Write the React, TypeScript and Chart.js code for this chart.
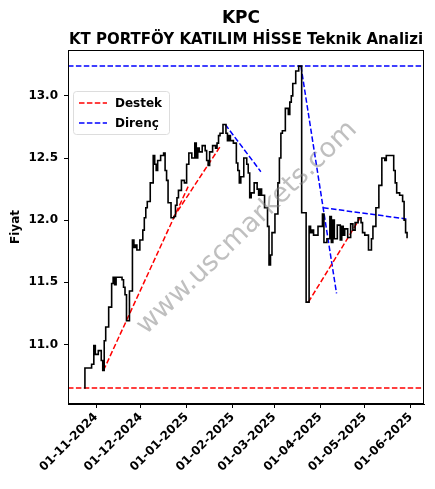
import React, { useEffect, useRef } from "react";
import { Chart, registerables } from "chart.js";

Chart.register(...registerables);

const DAY_MS = 86400000;
const dayNum = (iso: string) => Date.parse(iso + "T00:00:00Z") / DAY_MS;

// Session range and exchange holidays (no trading on these weekdays)
const firstSession = "2024-10-24";
const lastSession = "2025-05-30";
const marketHolidays = [
  "2024-10-29", "2025-01-01", "2025-03-31", "2025-04-01",
  "2025-04-23", "2025-05-01", "2025-05-19",
];

// Daily closing prices, one per session, grouped by month
const closeOct = [10.65, 10.81, 10.81, 10.84, 10.99];
const closeNov = [
  10.92, 10.95, 10.87, 10.79, 11.03, 11.14, 11.30, 11.49, 11.54, 11.48, 11.54,
  11.54, 11.52, 11.46, 11.40, 11.19, 11.43, 11.84, 11.78, 11.80, 11.76,
];
const closeDec = [
  11.84, 11.92, 12.02, 12.10, 12.15, 12.30, 12.52, 12.45, 12.40, 12.48, 12.52,
  12.54, 12.40, 12.32, 12.14, 12.02, 12.03, 12.12, 12.18, 12.24, 12.32, 12.30,
];
const closeJan = [
  12.45, 12.54, 12.50, 12.62, 12.50, 12.58, 12.55, 12.60, 12.56, 12.48, 12.44,
  12.55, 12.60, 12.58, 12.62, 12.68, 12.70, 12.77, 12.70, 12.64, 12.68, 12.64,
];
const closeFeb = [
  12.62, 12.46, 12.40, 12.30, 12.35, 12.50, 12.45, 12.38, 12.18, 12.22, 12.30,
  12.25, 12.20, 12.25, 12.20, 12.10, 11.95, 11.64, 11.72, 11.90,
];
const closeMar = [
  12.05, 12.30, 12.50, 12.70, 12.72, 12.90, 12.85, 12.95, 13.00, 13.10, 13.20,
  13.24, 13.24, 12.06, 12.06, 11.34, 11.95, 11.90, 11.92, 11.88,
];
const closeApr = [
  11.95, 12.05, 11.82, 11.85, 12.03, 11.82, 12.00, 11.85, 11.96, 11.84, 11.95,
  11.88, 11.93, 11.86, 11.97, 11.92, 11.98, 12.02, 11.98, 11.90,
];
const closeMay = [
  11.88, 11.76, 11.85, 11.95, 11.95, 12.10, 12.28, 12.50, 12.50, 12.48, 12.52,
  12.52, 12.40, 12.30, 12.22, 12.20, 12.15, 12.00, 11.90, 11.86,
];

// Horizontal support / resistance levels
const supportLevel = 10.65;
const resistanceLevel = 13.24;

// Trend lines: [start date, start price, end date, end price]
const supportTrends: [string, number, string, number][] = [
  ["2024-11-06", 10.79, "2025-01-02", 12.27],
  ["2024-12-23", 12.02, "2025-01-24", 12.6],
  ["2025-03-24", 11.34, "2025-04-28", 12.02],
];
const resistanceTrends: [string, number, string, number][] = [
  ["2025-01-27", 12.77, "2025-02-20", 12.39],
  ["2025-03-19", 13.24, "2025-04-12", 11.41],
  ["2025-04-03", 12.1, "2025-05-29", 12.01],
];

// Axis ticks
const monthTicks = [
  "2024-11-01", "2024-12-01", "2025-01-01", "2025-02-01",
  "2025-03-01", "2025-04-01", "2025-05-01", "2025-06-01",
];
const priceTicks = [11.0, 11.5, 12.0, 12.5, 13.0];

const titleText = "KPC";
const subtitleText = "KT PORTFÖY KATILIM HİSSE Teknik Analizi";
const yLabel = "Fiyat";
const supportLabel = "Destek";
const resistanceLabel = "Direnç";
const watermarkText = "www.uscmarkets.com";

const FONT = "'DejaVu Sans', 'Liberation Sans', sans-serif";

function sessionDays(): number[] {
  const out: number[] = [];
  const skip = new Set(marketHolidays.map(dayNum));
  for (let d = dayNum(firstSession); d <= dayNum(lastSession); d++) {
    const wd = new Date(d * DAY_MS).getUTCDay();
    if (wd === 0 || wd === 6 || skip.has(d)) continue;
    out.push(d);
  }
  return out;
}

function fmtDay(v: number): string {
  const dt = new Date(v * DAY_MS);
  const dd = String(dt.getUTCDate()).padStart(2, "0");
  const mm = String(dt.getUTCMonth() + 1).padStart(2, "0");
  return `${dd}-${mm}-${dt.getUTCFullYear()}`;
}

export default function App() {
  const canvasRef = useRef<HTMLCanvasElement>(null);

  useEffect(() => {
    const days = sessionDays();
    const closes = [
      ...closeOct, ...closeNov, ...closeDec, ...closeJan,
      ...closeFeb, ...closeMar, ...closeApr, ...closeMay,
    ];
    const n = Math.min(days.length, closes.length);
    const pricePts = [];
    for (let i = 0; i < n; i++) pricePts.push({ x: days[i], y: closes[i] });

    const xs = pricePts.map((p) => p.x);
    const ys = pricePts.map((p) => p.y);
    const x0 = Math.min(...xs), x1 = Math.max(...xs);
    const yLo = Math.min(...ys, supportLevel), yHi = Math.max(...ys, resistanceLevel);
    const xPad = (x1 - x0) * 0.05, yPad = (yHi - yLo) * 0.05;
    const xMin = x0 - xPad, xMax = x1 + xPad;
    const yMin = yLo - yPad, yMax = yHi + yPad;

    const dashed = (color: string, pts: { x: number; y: number }[]) => ({
      data: pts,
      borderColor: color,
      borderWidth: 1.5,
      borderDash: [5.5, 2.4],
      pointRadius: 0,
      fill: false,
      tension: 0,
    });
    const seg = (t: [string, number, string, number]) => [
      { x: dayNum(t[0]), y: t[1] },
      { x: dayNum(t[2]), y: t[3] },
    ];

    const datasets: any[] = [
      {
        data: pricePts,
        borderColor: "#000000",
        borderWidth: 1.6,
        pointRadius: 0,
        fill: false,
        stepped: "middle",
      },
      dashed("#ff0000", [{ x: xMin, y: supportLevel }, { x: xMax, y: supportLevel }]),
      dashed("#0000ff", [{ x: xMin, y: resistanceLevel }, { x: xMax, y: resistanceLevel }]),
      ...supportTrends.map((t) => dashed("#ff0000", seg(t))),
      ...resistanceTrends.map((t) => dashed("#0000ff", seg(t))),
    ];

    const decorations = {
      id: "decorations",
      afterDatasetsDraw(chart: any) {
        const { ctx, chartArea: a } = chart;
        ctx.save();
        // watermark
        ctx.save();
        ctx.translate((a.left + a.right) / 2 + 1, (a.top + a.bottom) / 2 + 1);
        ctx.rotate((-44 * Math.PI) / 180);
        ctx.font = `27px ${FONT}`;
        ctx.fillStyle = "rgba(128,128,128,0.5)";
        ctx.textAlign = "center";
        ctx.textBaseline = "middle";
        ctx.fillText(watermarkText, 0, 0);
        ctx.restore();

        // axes frame
        ctx.strokeStyle = "#000";
        ctx.lineWidth = 1;
        ctx.strokeRect(a.left + 0.5, a.top + 0.5, a.right - a.left - 1, a.bottom - a.top - 1);

        // legend
        const lx = a.left + 5, ly = a.top + 41, lw = 96, lh = 43;
        ctx.fillStyle = "rgba(255,255,255,0.8)";
        ctx.strokeStyle = "#dddddd";
        ctx.lineWidth = 1;
        ctx.beginPath();
        (ctx as any).roundRect(lx + 0.5, ly + 0.5, lw, lh, 3);
        ctx.fill();
        ctx.stroke();
        const rows: [string, string][] = [
          ["#ff0000", supportLabel],
          ["#0000ff", resistanceLabel],
        ];
        rows.forEach(([c, label], i) => {
          const yy = ly + 12 + i * 20;
          ctx.strokeStyle = c;
          ctx.lineWidth = 1.5;
          ctx.setLineDash([5.5, 2.4]);
          ctx.beginPath();
          ctx.moveTo(lx + 6, yy);
          ctx.lineTo(lx + 34, yy);
          ctx.stroke();
          ctx.setLineDash([]);
          ctx.fillStyle = "#000";
          ctx.font = `bold 12px ${FONT}`;
          ctx.textAlign = "left";
          ctx.textBaseline = "middle";
          ctx.fillText(label, lx + 42, yy + 1);
        });

        // titles
        const cx = (a.left + a.right) / 2;
        ctx.fillStyle = "#000";
        ctx.textAlign = "center";
        ctx.textBaseline = "alphabetic";
        ctx.font = `bold 17px ${FONT}`;
        ctx.fillText(titleText, cx - 5, 23);
        ctx.font = `bold 15px ${FONT}`;
        ctx.fillText(subtitleText, cx, 44);

        // y axis label
        ctx.save();
        ctx.translate(16, (a.top + a.bottom) / 2);
        ctx.rotate(-Math.PI / 2);
        ctx.font = `bold 12px ${FONT}`;
        ctx.textAlign = "center";
        ctx.textBaseline = "middle";
        ctx.fillText(yLabel, 0, 0);
        ctx.restore();
        ctx.restore();
      },
    };

    const tickFont = { family: FONT, size: 12, weight: "bold" as const };
    const chart = new Chart(canvasRef.current!, {
      type: "line",
      data: { datasets },
      options: {
        animation: false,
        responsive: false,
        devicePixelRatio: 1,
        parsing: false as any,
        layout: { padding: { top: 50, right: 11, left: 0, bottom: 0 } },
        plugins: {
          legend: { display: false },
          title: { display: false },
          tooltip: { enabled: false },
        },
        scales: {
          x: {
            type: "linear",
            min: xMin,
            max: xMax,
            afterBuildTicks: (s: any) => {
              s.ticks = monthTicks.map((m) => ({ value: dayNum(m) }));
            },
            afterFit: (s: any) => {
              s.height = 85;
            },
            ticks: {
              autoSkip: false,
              maxRotation: 45,
              minRotation: 45,
              padding: 2,
              color: "#000",
              font: tickFont,
              callback: (v: any) => fmtDay(Number(v)),
            },
            grid: { display: true, drawOnChartArea: false, drawTicks: true, tickLength: 4, color: "#000" },
            border: { display: true, color: "#000" },
          },
          y: {
            type: "linear",
            min: yMin,
            max: yMax,
            afterBuildTicks: (s: any) => {
              s.ticks = priceTicks.map((v) => ({ value: v }));
            },
            afterFit: (s: any) => {
              s.width = 68;
            },
            ticks: {
              padding: 6,
              color: "#000",
              font: tickFont,
              callback: (v: any) => Number(v).toFixed(1),
            },
            grid: { display: true, drawOnChartArea: false, drawTicks: true, tickLength: 4, color: "#000" },
            border: { display: true, color: "#000" },
          },
        },
      },
      plugins: [decorations],
    });

    return () => chart.destroy();
  }, []);

  return (
    <div style={{ position: "absolute", left: 0, top: 0, width: 435, height: 489, background: "#fff" }}>
      <canvas ref={canvasRef} width={435} height={489} />
    </div>
  );
}
